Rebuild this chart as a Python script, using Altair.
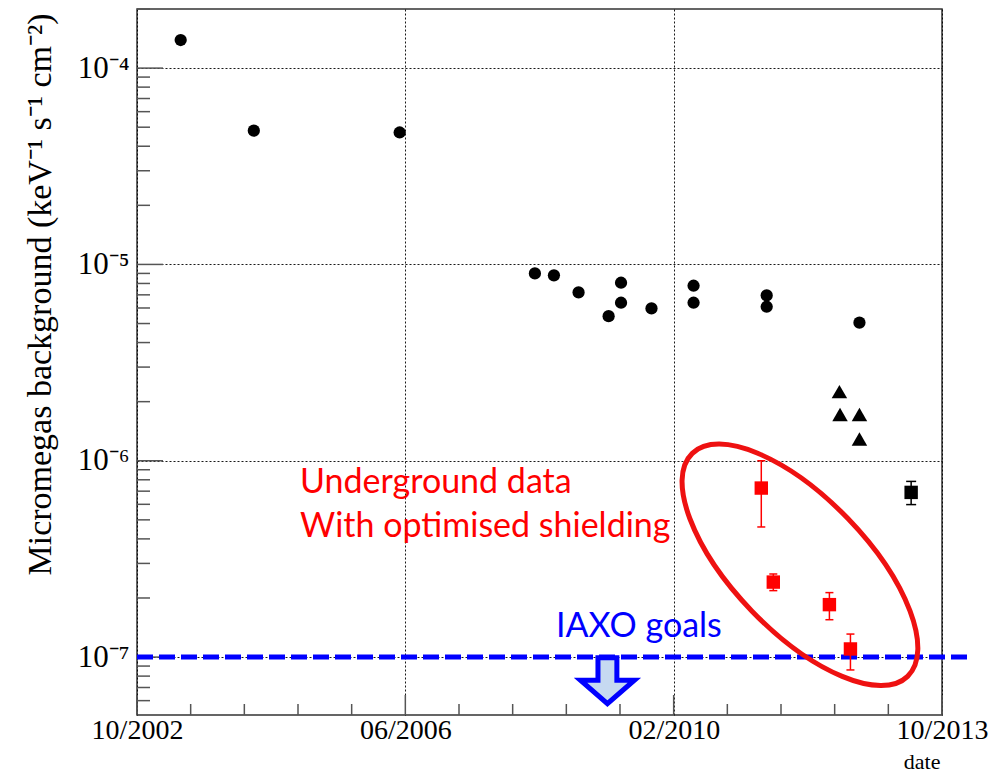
import altair as alt
import pandas as pd

# ---------------- data ----------------
circ_dates = ["2003-05-07", "2004-05-06", "2006-05-04", "2008-03-09", "2008-06-12",
              "2008-10-13", "2009-03-12", "2009-05-13", "2009-05-13", "2009-10-12",
              "2010-05-10", "2010-05-10", "2011-05-10", "2011-05-10", "2012-08-15"]
circ_vals = [1.39e-4, 4.8e-5, 4.7e-5, 9.0e-6, 8.8e-6,
             7.2e-6, 5.45e-6, 8.07e-6, 6.38e-6, 5.97e-6,
             7.79e-6, 6.38e-6, 6.95e-6, 6.09e-6, 5.05e-6]

tri_dates = ["2012-05-07", "2012-05-10", "2012-08-15", "2012-08-15"]
tri_vals = [2.25e-6, 1.72e-6, 1.72e-6, 1.29e-6]

red_dates = ["2011-04-13", "2011-06-12", "2012-03-18", "2012-07-01"]
red_vals = [7.26e-7, 2.41e-7, 1.85e-7, 1.10e-7]
red_lo = [4.6e-7, 2.18e-7, 1.55e-7, 8.6e-8]
red_hi = [1.0e-6, 2.65e-7, 2.13e-7, 1.31e-7]

blk_dates = ["2013-04-30"]
blk_vals = [6.9e-7]
blk_lo = [5.98e-7]
blk_hi = [7.85e-7]

iaxo_goal = 1e-7

x_start = (2002, 10, 1)
x_end = (2013, 10, 1)
x_major = [(2002, 10, 1), (2006, 6, 1), (2010, 2, 1), (2013, 10, 1)]
y_major = [1e-7, 1e-6, 1e-5, 1e-4]
y_domain = [5.07e-8, 2.0e-4]
y_minor_mant = [2, 3, 4, 5, 6, 7, 8, 9]
y_minor_exp = [-8, -7, -6, -5, -4]

# annotation anchors (data coordinates)
ann_text = ["Underground data", "With optimised shielding"]
ann_dates = ["2004-12-23", "2004-12-23"]
ann_vals = [6.87e-7, 4.1e-7]
goal_text = ["IAXO goals"]
goal_dates = ["2008-06-22"]
goal_vals = [1.265e-7]
ellipse_date = ["2011-10-23"]
ellipse_val = [2.95e-7]
arrow_date = ["2009-03-06"]
arrow_val = [7.63e-8]

# ---------------- helpers ----------------
W, H = 805, 706
SERIF = "Liberation Serif"


def dt(t):
    return alt.DateTime(year=t[0], month=t[1], date=t[2], utc=True)


xscale = alt.Scale(type="utc", domain=[dt(x_start), dt(x_end)])
yscale = alt.Scale(type="log", domain=y_domain)

label_expr = ("round(log(datum.value)/LN10) == -4 ? '10⁻⁴' : "
              "round(log(datum.value)/LN10) == -5 ? '10⁻⁵' : "
              "round(log(datum.value)/LN10) == -6 ? '10⁻⁶' : "
              "round(log(datum.value)/LN10) == -7 ? '10⁻⁷' : ''")

X_AXIS = alt.Axis(
    values=[dt(t) for t in x_major], format="%m/%Y",
    labelFont=SERIF, labelFontSize=28, labelColor="black", labelPadding=1,
    labelFlush=False, labelOverlap=False,
    ticks=False, domain=False,
    grid=True, gridColor="black", gridDash=[2, 2], gridWidth=1, gridOpacity=0.9,
    title="date", titleFont=SERIF, titleFontSize=22, titleFontWeight="normal",
    titleColor="black", titleAlign="right", titleAnchor="end",
    titleX=W - 2, titleY=53.5, titleBaseline="alphabetic")
Y_AXIS = alt.Axis(
    values=y_major, labelExpr=label_expr,
    labelFont=SERIF, labelFontSize=31, labelColor="black", labelPadding=8,
    ticks=False, domain=False,
    grid=True, gridColor="black", gridDash=[2, 2], gridWidth=1, gridOpacity=0.9,
    title="Micromegas background (keV⁻¹ s⁻¹ cm⁻²)",
    titleFont=SERIF, titleFontSize=34, titleFontWeight="normal", titleColor="black",
    titleAngle=270, titleAlign="center", titleBaseline="middle",
    titleX=-97, titleY=285)


def X(f="d"):
    return alt.X(f"{f}:T", scale=xscale, axis=X_AXIS)


def Y(f="v"):
    return alt.Y(f"{f}:Q", scale=yscale, axis=Y_AXIS)


# minor / major tick tables
x_ticks = pd.date_range(pd.Timestamp(*x_start), pd.Timestamp(*x_end), periods=16)
x_ticks_ms = [int(t.value // 10**6) for t in x_ticks]
x_minor_df = pd.DataFrame({"d": [v for i, v in enumerate(x_ticks_ms) if i % 5 != 0]})
x_major_df = pd.DataFrame({"d": [v for i, v in enumerate(x_ticks_ms) if i % 5 == 0]})
y_minor = [m * 10.0 ** e for e in y_minor_exp for m in y_minor_mant
           if y_domain[0] <= m * 10.0 ** e <= y_domain[1]]
y_minor_df = pd.DataFrame({"v": y_minor})
y_major_df = pd.DataFrame({"v": y_major})

circ_df = pd.DataFrame({"d": circ_dates, "v": circ_vals})
tri_df = pd.DataFrame({"d": tri_dates, "v": tri_vals})
red_df = pd.DataFrame({"d": red_dates, "v": red_vals, "lo": red_lo, "hi": red_hi})
blk_df = pd.DataFrame({"d": blk_dates, "v": blk_vals, "lo": blk_lo, "hi": blk_hi})
ann_df = pd.DataFrame({"d": ann_dates, "v": ann_vals, "t": ann_text})
goal_df = pd.DataFrame({"d": goal_dates, "v": goal_vals, "t": goal_text})
ell_df = pd.DataFrame({"d": ellipse_date, "v": ellipse_val})
arr_df = pd.DataFrame({"d": arrow_date, "v": arrow_val})

# ---------------- layers ----------------
AX = "#555555"
y_minor_ticks = alt.Chart(y_minor_df).mark_rule(color=AX, strokeWidth=1.5).encode(
    y=Y(), x=alt.value(0), x2=alt.value(13))
y_major_ticks = alt.Chart(y_major_df).mark_rule(color=AX, strokeWidth=1.5).encode(
    y=Y(), x=alt.value(0), x2=alt.value(26))
x_minor_ticks = alt.Chart(x_minor_df).mark_rule(color=AX, strokeWidth=1.5).encode(
    x=X(), y=alt.value(H), y2=alt.value(H - 11))
x_major_ticks = alt.Chart(x_major_df).mark_rule(color=AX, strokeWidth=1.5).encode(
    x=X(), y=alt.value(H), y2=alt.value(H - 20))

goal_line = alt.Chart(pd.DataFrame({"v": [iaxo_goal]})).mark_rule(
    color="#0000ff", strokeWidth=5, strokeDash=[16, 6]).encode(
    y=Y(), x=alt.value(0), x2=alt.value(W + 26))

circles = alt.Chart(circ_df).mark_circle(size=150, color="black", opacity=1).encode(
    x=X(), y=Y())
triangles = alt.Chart(tri_df).mark_point(shape="triangle-up", filled=True, size=240,
                                         color="black", opacity=1).encode(x=X(), y=Y())

red_err = alt.Chart(red_df).mark_rule(color="#ff0000", strokeWidth=1.5).encode(
    x=X(), y=Y("lo"), y2="hi:Q")
red_cap_lo = alt.Chart(red_df).mark_tick(color="#ff0000", thickness=1.5, size=8,
                                         orient="horizontal", opacity=1).encode(x=X(), y=Y("lo"))
red_cap_hi = alt.Chart(red_df).mark_tick(color="#ff0000", thickness=1.5, size=8,
                                         orient="horizontal", opacity=1).encode(x=X(), y=Y("hi"))
red_sq = alt.Chart(red_df).mark_square(size=180, color="#ff0000", opacity=1).encode(
    x=X(), y=Y())

blk_err = alt.Chart(blk_df).mark_rule(color="black", strokeWidth=1.5).encode(
    x=X(), y=Y("lo"), y2="hi:Q")
blk_cap_lo = alt.Chart(blk_df).mark_tick(color="black", thickness=1.5, size=10,
                                         orient="horizontal", opacity=1).encode(x=X(), y=Y("lo"))
blk_cap_hi = alt.Chart(blk_df).mark_tick(color="black", thickness=1.5, size=10,
                                         orient="horizontal", opacity=1).encode(x=X(), y=Y("hi"))
blk_sq = alt.Chart(blk_df).mark_square(size=180, color="black", opacity=1).encode(
    x=X(), y=Y())

ELLIPSE = ("M -1 0 C -1 -0.2375 -0.5523 -0.43 0 -0.43 C 0.5523 -0.43 1 -0.2375 1 0 "
           "C 1 0.2375 0.5523 0.43 0 0.43 C -0.5523 0.43 -1 0.2375 -1 0 Z")
ellipse = alt.Chart(ell_df).mark_point(shape=ELLIPSE, filled=False, stroke="#ee1111",
                                       strokeWidth=5, size=310 ** 2, angle=46,
                                       opacity=1).encode(x=X(), y=Y())

ARROW = "M -0.35 -0.83 L 0.35 -0.83 L 0.35 0 L 1 0 L 0 0.87 L -1 0 L -0.35 0 Z"
arrow = alt.Chart(arr_df).mark_point(shape=ARROW, filled=True, fill="#c6d9f1",
                                     stroke="#0000ff", strokeWidth=5, size=54 ** 2,
                                     opacity=1, fillOpacity=1, strokeOpacity=1,
                                     strokeJoin="miter").encode(x=X(), y=Y())

ann = alt.Chart(ann_df).mark_text(align="left", baseline="alphabetic", font="Lato",
                                  fontSize=34, color="#ff0000").encode(
    x=X(), y=Y(), text="t:N")
goal_txt = alt.Chart(goal_df).mark_text(align="left", baseline="alphabetic", font="Lato",
                                        fontSize=34, color="#0000ff").encode(
    x=X(), y=Y(), text="t:N")

chart = alt.layer(
    y_minor_ticks, y_major_ticks, x_minor_ticks, x_major_ticks,
    goal_line, circles, triangles,
    red_err, red_cap_lo, red_cap_hi, red_sq,
    blk_err, blk_cap_lo, blk_cap_hi, blk_sq,
    ellipse, arrow, ann, goal_txt,
).properties(
    width=W, height=H,
    autosize=alt.AutoSizeParams(type="none"),
    padding={"left": 129, "top": 1, "right": 56, "bottom": 58},
    background="white",
).configure_view(stroke="#333333", strokeWidth=1.5)

chart.save("out.html", embed_options={"renderer": "svg", "actions": False})
